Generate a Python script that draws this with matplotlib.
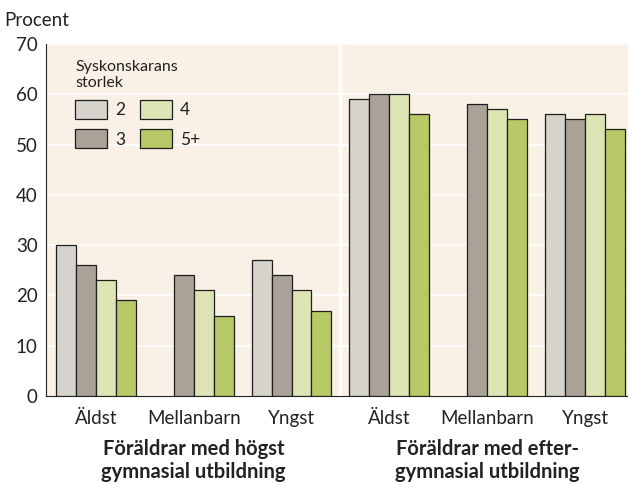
import numpy as np
import matplotlib
matplotlib.use('Agg')
import matplotlib.pyplot as plt

plt.rcParams['font.family'] = ['Lato', 'DejaVu Sans']

# data (nan = no bar)
kategorier = ['Äldst', 'Mellanbarn', 'Yngst', 'Äldst', 'Mellanbarn', 'Yngst']
storlek = ['2', '3', '4', '5+']
v2 = [30, np.nan, 27, 59, np.nan, 56]
v3 = [26, 24, 24, 60, 58, 55]
v4 = [23, 21, 21, 60, 57, 56]
v5 = [19, 16, 17, 56, 55, 53]
grupper = ['Föräldrar med högst\ngymnasial utbildning',
           'Föräldrar med efter-\ngymnasial utbildning']

farger = ['#d6d2cc', '#aaa297', '#dce4b4', '#b9c866']
bg = '#f9f1e5'
txt = '#222222'

fig = plt.figure(figsize=(6.28, 4.83), dpi=100)
ax = fig.add_axes([46/628, 1-396/483, 1-46/628, 352/483])
ax.set_facecolor(bg)

x = np.arange(len(kategorier))
w = 0.204
for i, (vals, c, lab) in enumerate(zip([v2, v3, v4, v5], farger, storlek)):
    ax.bar(x + (i - 1.5)*w, vals, w, color=c, edgecolor='#1e1e1e',
           linewidth=0.9, label=lab, zorder=3)

ax.set_ylim(0, 70)
ax.set_xlim(-0.51, 5.44)
ax.set_yticks(range(0, 71, 10))
for yv in range(10, 71, 10):
    ax.axhline(yv, color='white', lw=1.2, zorder=1)
ax.axvline(2.5, color='white', lw=2.5, zorder=1)

for s in ['top', 'right']:
    ax.spines[s].set_visible(False)
ax.spines['left'].set_color(txt)
ax.spines['bottom'].set_color(txt)
ax.tick_params(axis='both', length=0, labelsize=13.5, colors=txt)
ax.tick_params(axis='y', pad=6)
ax.tick_params(axis='x', pad=10)
ax.set_xticks(x)
ax.set_xticklabels(kategorier)

fig.text(4/628, 1-20/483, 'Procent', fontsize=13.5, va='center', color=txt)

for gx, g in zip([1, 4], grupper):
    ax.annotate(g, xy=(gx, 0), xycoords=('data', 'axes fraction'),
                xytext=(0, -31), textcoords='offset points', ha='center',
                va='top', fontsize=14.5, fontweight='bold', color=txt,
                linespacing=1.2)

leg = ax.legend(ncol=2, title='Syskonskarans\nstorlek', loc='upper left',
                bbox_to_anchor=(29/582, 1-16/352), frameon=False, fontsize=12.5,
                title_fontsize=11.5, handlelength=1.84, handleheight=1.3,
                columnspacing=0.8, handletextpad=0.5, labelspacing=0.6,
                alignment='left', borderaxespad=0, borderpad=0)
leg.get_title().set_color(txt)
leg.get_title().set_linespacing(1.15)
for t in leg.get_texts():
    t.set_color(txt)

fig.savefig('out.png', dpi=100)
